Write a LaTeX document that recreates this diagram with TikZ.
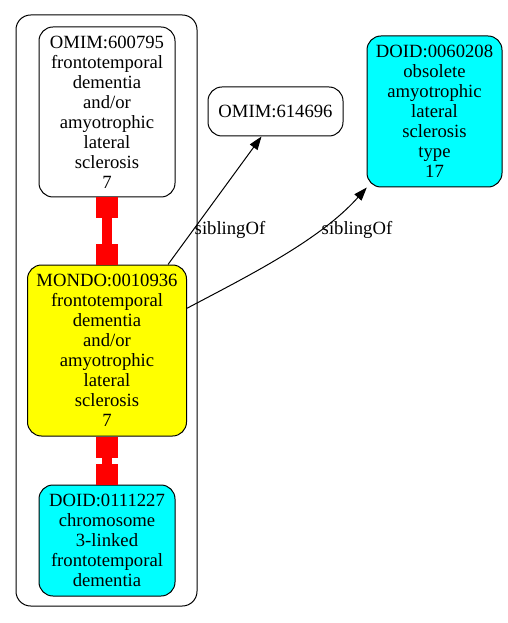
\documentclass[tikz,border=0pt]{standalone}
\usepackage{fontspec}
\setmainfont{Liberation Serif}
\usetikzlibrary{arrows.meta, positioning}
\definecolor{mondoyellow}{RGB}{255,255,0}
\definecolor{doidcyan}{RGB}{0,255,255}

\begin{document}
\begin{tikzpicture}[x=0.75pt, y=-0.75pt,
  term/.style={
    rectangle, draw=black, line width=0.75pt, rounded corners=10.5pt,
    align=center, font=\rmfamily\fontsize{14}{15}\selectfont, inner sep=2pt},
  mondo/.style={term, fill=mondoyellow},
  doid/.style={term, fill=doidcyan},
  grp/.style={draw=black, line width=0.75pt, rounded corners=11pt},
  eqv/.style={red, line width=7.5pt,
    {Rectangle[length=15.75pt, width=16.5pt, line width=0pt]}-{Rectangle[length=15.75pt, width=16.5pt, line width=0pt]}},
  arr/.style={-{Triangle[length=10pt, width=7pt]}, black, line width=0.75pt},
  lbl/.style={font=\rmfamily\fontsize{14}{15}\selectfont, inner sep=0pt}
]
\useasboundingbox (0,0) rectangle (507,623);
% ── Clique box ──
\draw[grp] (16,15) rectangle (197,606);
% ── Terms ──
\node[term, minimum width=102pt, minimum height=127.5pt] (OMIMa) at (107,112)
  {OMIM:600795\\frontotemporal\\dementia\\and/or\\amyotrophic\\lateral\\sclerosis\\7};
\node[mondo, minimum width=119.25pt, minimum height=128.25pt] (MONDO) at (107,350.5)
  {MONDO:0010936\\frontotemporal\\dementia\\and/or\\amyotrophic\\lateral\\sclerosis\\7};
\node[doid, minimum width=102pt, minimum height=83.25pt] (DOIDb) at (107,540.5)
  {DOID:0111227\\chromosome\\3-linked\\frontotemporal\\dementia};
\node[term, minimum width=101.25pt, minimum height=36.75pt] (OMIMb) at (275.5,111.5)
  {OMIM:614696};
\node[doid, minimum width=101.25pt, minimum height=113.25pt] (DOIDa) at (434.5,111.5)
  {DOID:0060208\\obsolete\\amyotrophic\\lateral\\sclerosis\\type\\17};
% ── Equivalences ──
\draw[eqv] (OMIMa.south) -- (MONDO.north);
\draw[eqv] (MONDO.south) -- (DOIDb.north);
% ── Siblings ──
\coordinate (s1) at ([xshift=-19*0.75pt]MONDO.north east);
\coordinate (t1) at ([xshift=-14*0.75pt]OMIMb.south);
\draw[arr] (s1) -- (t1);
\draw[arr] (MONDO) .. controls (250,275) and (320,240) .. (DOIDa);
\node[lbl] (sibA) at (230,230) {siblingOf};
\node[lbl] (sibB) at (357,230) {siblingOf};
\end{tikzpicture}
\end{document}
